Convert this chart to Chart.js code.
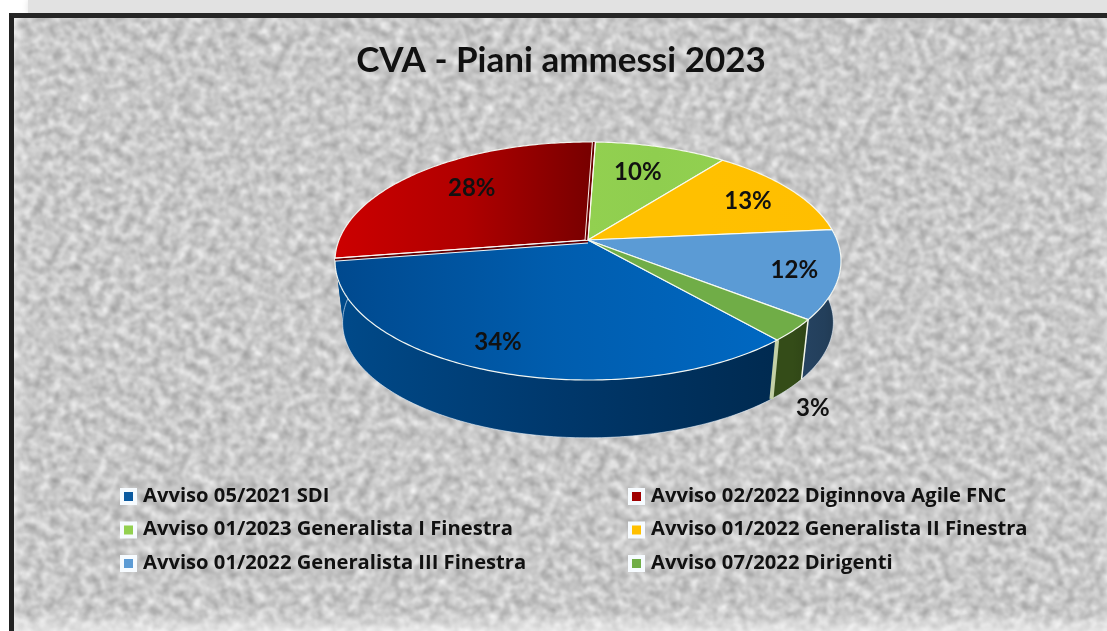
<!DOCTYPE html>
<html><head><meta charset="utf-8">
<script src="https://cdn.jsdelivr.net/npm/chart.js@4"></script>
<style>
html,body{margin:0;padding:0;width:1107px;height:631px;overflow:hidden;background:#fff}
#top{position:absolute;left:28px;top:0;width:1079px;height:14px;background:#e2e2e2;box-shadow:0 0 6px #e2e2e2}
#panel{position:absolute;left:9px;top:13px;width:1110px;height:630px;box-sizing:border-box;border:5px solid #222;border-top-color:#262626;
background-color:#c6c6c6;
background-image:url("data:image/svg+xml,%3Csvg xmlns='http://www.w3.org/2000/svg' width='1107' height='631'%3E%3Cfilter id='n' color-interpolation-filters='sRGB' x='0' y='0' width='100%25' height='100%25'%3E%3CfeTurbulence type='fractalNoise' baseFrequency='0.115' numOctaves='3' seed='11'/%3E%3CfeGaussianBlur stdDeviation='1'/%3E%3CfeColorMatrix values='0.42 0 0 0 0.575 0.42 0 0 0 0.575 0.42 0 0 0 0.575 0 0 0 0 1'/%3E%3C/filter%3E%3Crect x='-500' y='-700' width='2200' height='2000' transform='rotate(27)' filter='url(%23n)'/%3E%3C/svg%3E");}
#shade{position:absolute;left:14px;top:18px;width:1093px;height:613px;box-shadow:inset 0 -12px 16px -4px rgba(255,255,255,.6),inset 8px 0 12px -6px rgba(255,255,255,.4)}
canvas{position:absolute;left:0;top:0;filter:blur(.35px)}
</style></head><body>
<div id="top"></div><div id="panel"></div><div id="shade"></div>
<canvas id="c" width="1107" height="631"></canvas>
<script>
const categories = ['Avviso 05/2021 SDI','Avviso 02/2022 Diginnova Agile FNC','Avviso 01/2023 Generalista I Finestra','Avviso 01/2022 Generalista II Finestra','Avviso 01/2022 Generalista III Finestra','Avviso 07/2022 Dirigenti'];
const shares = [34,28,10,13,12,3];
const faceColors = [['#00498e','#005dae','#0068c2'],['#cc0000','#b00000','#760000'],['#92d050','#8fce4f','#92d050'],['#ffc000','#ffc000','#ffbe00'],['#5b9bd5','#5b9bd5','#5b9bd5'],['#70ad47','#70ad47','#70ad47']];
const wallColors = [['#004a8a','#00386c','#002a50'],['#004a8a','#004a8a','#004a8a'],['#4a6b28','#4a6b28','#4a6b28'],['#806000','#806000','#806000'],['#254260','#233f5b','#20384f'],['#344c18','#344c18','#2f4516']];
const swatches = ['#0a5aa0','#a00000','#92d050','#ffc000','#5b9bd5','#70ad47'];
const labelReach = [.816,.72,.715,.78,.828,1.08];
const labelTurn = [.045,.06,-.03,0,0,0];

const PIE = {cx:588,cy:240,a:249,b:115.3,k:.1765,depth:62,shrink:.97};
function proj(ang,r,low){
  const u=Math.cos(ang)*r,v=Math.sin(ang)*r,w=1-PIE.k*v,s=low?PIE.shrink:1;
  return [PIE.cx+s*PIE.a*u/w,PIE.cy+(low?PIE.depth:0)+s*PIE.b*v/w];
}
function hGrad(ctx,cols,x0,x1){
  const g=ctx.createLinearGradient(x0,0,x1,0);
  g.addColorStop(0,cols[0]);g.addColorStop(.5,cols[1]);g.addColorStop(1,cols[2]);return g;
}
function samples(s,e){const n=Math.max(8,Math.ceil((e-s)/.015)),o=[];for(let i=0;i<=n;i++)o.push(s+(e-s)*i/n);return o;}
function xr(pts){const xs=pts.map(p=>p[0]);return [Math.min(...xs),Math.max(...xs)];}
function cut(ctx,ang,dx,dy){
  const p=proj(ang,1),line=(ox,oy,c,w)=>{ctx.beginPath();ctx.moveTo(PIE.cx+ox,PIE.cy+oy);ctx.lineTo(p[0]+ox,p[1]+oy);ctx.strokeStyle=c;ctx.lineWidth=w;ctx.stroke();};
  line(dx*1.6,dy*1.6,'#6a0000',1.8);line(0,0,'rgba(255,245,240,.95)',1);line(dx*3,dy*3,'rgba(255,250,245,.95)',1);
}

const pie3d={
  id:'pie3d',
  beforeDatasetDraw(chart){
    const ctx=chart.ctx,arcs=chart.getDatasetMeta(0).data;
    ctx.save();
    arcs.forEach((arc,i)=>{
      const an=samples(arc.startAngle,arc.endAngle),top=an.map(a=>proj(a,1)),low=an.map(a=>proj(a,1,true));
      const [x0,x1]=xr(top);
      ctx.beginPath();top.forEach((p,j)=>j?ctx.lineTo(p[0],p[1]):ctx.moveTo(p[0],p[1]));
      low.slice().reverse().forEach(p=>ctx.lineTo(p[0],p[1]));ctx.closePath();
      ctx.fillStyle=hGrad(ctx,wallColors[i],x0,x1);ctx.fill();
      ctx.beginPath();low.forEach((p,j)=>j?ctx.lineTo(p[0],p[1]):ctx.moveTo(p[0],p[1]));
      ctx.strokeStyle='rgba(235,245,255,.6)';ctx.lineWidth=1;ctx.stroke();
    });
    arcs.forEach((arc,i)=>{
      if(i===1)return;
      const p=proj(arc.startAngle,1),q=proj(arc.startAngle,1,true);
      ctx.beginPath();ctx.moveTo(p[0],p[1]);ctx.lineTo(q[0],q[1]);
      ctx.strokeStyle=i===0?'#c3d0a6':'#f2f6ea';ctx.lineWidth=i===0?4:1.5;ctx.stroke();
    });
    arcs.forEach((arc,i)=>{
      const an=samples(arc.startAngle,arc.endAngle),rim=an.map(a=>proj(a,1));
      const [x0,x1]=xr(rim.concat([[PIE.cx,PIE.cy]]));
      ctx.beginPath();ctx.moveTo(PIE.cx,PIE.cy);rim.forEach(p=>ctx.lineTo(p[0],p[1]));ctx.closePath();
      ctx.fillStyle=hGrad(ctx,faceColors[i],x0,x1);ctx.fill();
      ctx.strokeStyle='rgba(250,252,245,.95)';ctx.lineWidth=1.2;ctx.lineJoin='round';ctx.stroke();
    });
    cut(ctx,arcs[1].startAngle,0,1);
    cut(ctx,arcs[1].endAngle,-1,0);
    ctx.restore();
    return false;
  },
  afterDraw(chart){
    const ctx=chart.ctx,arcs=chart.getDatasetMeta(0).data;
    ctx.save();
    ctx.font='bold 24px Lato';ctx.fillStyle='#111';ctx.textAlign='center';ctx.textBaseline='middle';
    const total=shares.reduce((s,v)=>s+v,0);
    arcs.forEach((arc,i)=>{
      const reach=labelReach[i],p=proj((arc.startAngle+arc.endAngle)/2+labelTurn[i],reach);
      ctx.fillText(Math.round(shares[i]/total*100)+'%',p[0],p[1]+2+(reach>1?PIE.depth+6:0));
    });
    ctx.font='bold 20.2px "Open Sans"';ctx.textAlign='left';
    categories.forEach((t,i)=>{
      const col=i%2,row=(i-col)/2,x=col?628:120,y=496+row*33.5;
      ctx.fillStyle='#f6fbff';ctx.fillRect(x,y-8,17,17);
      ctx.fillStyle=swatches[i];ctx.fillRect(x+4,y-4,9,9);
      ctx.fillStyle='#111';ctx.fillText(t,x+23,y);
    });
    ctx.restore();
  }
};

new Chart(document.getElementById('c'),{
  type:'pie',
  data:{labels:categories,datasets:[{data:shares,backgroundColor:swatches,borderWidth:0}]},
  options:{
    responsive:false,animation:false,rotation:138.8,
    layout:{padding:{left:15,right:0,top:0,bottom:200}},
    plugins:{
      legend:{display:false},tooltip:{enabled:false},
      title:{display:true,text:'CVA - Piani ammessi 2023',color:'#111',font:{family:'Lato',size:35,weight:'bold'},padding:{top:40,bottom:4}}
    }
  },
  plugins:[pie3d]
});
</script>
</body></html>
